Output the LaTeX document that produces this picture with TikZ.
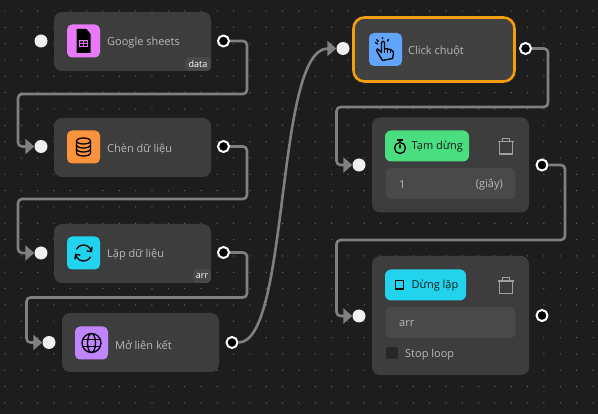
\documentclass[tikz,border=0pt]{standalone}
\usepackage{fontspec}
\setmainfont{Open Sans}
\usetikzlibrary{arrows.meta}
\definecolor{nenC}{HTML}{1D1D1D}
\definecolor{theC}{HTML}{3D3D3D}
\definecolor{oC}{HTML}{494949}
\definecolor{chuC}{HTML}{B8B8B8}
\definecolor{dayC}{HTML}{808080}
\definecolor{hongC}{HTML}{E879F9}
\definecolor{camC}{HTML}{FB923C}
\definecolor{xanhC}{HTML}{22D3EE}
\definecolor{timC}{HTML}{C084FC}
\definecolor{bienC}{HTML}{60A5FA}
\definecolor{lucC}{HTML}{4ADE80}
\definecolor{vienC}{HTML}{F59E0B}
\definecolor{racC}{HTML}{A0A0A0}
\tikzset{
	the/.style={fill=theC, rounded corners=8pt, minimum width=157pt, minimum height=59pt, inner sep=0pt},
	bieutuong/.style={rounded corners=5pt, minimum size=33pt, inner sep=0pt},
	nhan/.style={anchor=west, text=chuC, font=\fontsize{11}{12}\selectfont, inner sep=0pt},
	nhantrang/.style={anchor=center, text=white, font=\fontsize{9}{10}\selectfont, inner sep=0pt},
	nhannut/.style={anchor=west, text=nenC, font=\fontsize{11}{12}\selectfont, inner sep=0pt},
	the nho/.style={fill=oC, rounded corners=4pt, inner sep=0pt},
	o nhap/.style={fill=oC, rounded corners=5pt, minimum width=130pt, minimum height=31pt, inner sep=0pt},
	nut/.style={rounded corners=6pt, minimum height=31pt, inner sep=0pt},
	cong vao/.style={circle, fill=white!94!black, minimum size=13pt, inner sep=0pt},
	cong ra/.style={circle, fill=black, draw=white, line width=2pt, minimum size=11pt, inner sep=0pt},
	day/.style={draw=dayC, line width=2.6pt, rounded corners=4pt, -{Triangle[length=9pt,width=15pt,fill=dayC]}},
	net/.style={draw=black, line width=1.3pt, line cap=round, line join=round},
}
\begin{document}
\begin{tikzpicture}[x=1pt, y=-1pt, line join=round]
	\useasboundingbox (0,0) rectangle (598,414);
	\fill[nenC] (0,0) rectangle (598,414);
	
	% Các chấm nền
	\foreach \i in {0,...,36}
		\foreach \j in {0,...,25}
			\fill[white!32!nenC] (5+16.33*\i, 11+16.33*\j) circle (0.7pt);
	
	% Các thẻ bên trái
	\node[the] (sheets) at (132.5,41.5) {};
	\node[the] (chen) at (132.5,147.5) {};
	\node[the] (lap) at (132.5,253.5) {};
	\node[the] (lienket) at (140.5,342.5) {};
	
	% Các thẻ bên phải
	\node[the, minimum width=161pt, minimum height=64pt, draw=vienC, line width=2.6pt, rounded corners=11pt, fill=white!2!theC] (click) at (434,49.5) {};
	\node[the, minimum height=95pt] (tamdung) at (450.5,165) {};
	\node[the, minimum height=119pt] (dunglap) at (450.5,315.5) {};
	
	% Các biểu tượng
	\node[bieutuong, fill=hongC] (iconsheets) at (83.5,41) {};
	\node[bieutuong, fill=camC] (iconchen) at (83.5,147) {};
	\node[bieutuong, fill=xanhC] (iconlap) at (83.5,253) {};
	\node[bieutuong, fill=timC] (iconlienket) at (91.5,343) {};
	\node[bieutuong, fill=bienC] (iconclick) at (385.5,49.5) {};
	
	% Tên các thẻ
	\node[nhan] (tsheets) at (107,43) {Google sheets};
	\node[nhan] (tchen) at (107,149) {Chèn dữ liệu};
	\node[nhan] (tlap) at (107,255) {Lặp dữ liệu};
	\node[nhan] (tlienket) at (115,345) {Mở liên kết};
	\node[nhan] (tclick) at (408,51) {Click chuột};
	
	% Nhãn nhỏ ở góc
	\node[the nho, minimum width=26pt, minimum height=14pt] (gocdata) at (198,64) {};
	\node[nhantrang] (tdata) at (198,64.5) {data};
	\node[the nho, minimum width=18pt, minimum height=14pt] (gocarr) at (202,276) {};
	\node[nhantrang] (tarr) at (202,276.5) {arr};
	
	% Nút và ô nhập
	\node[nut, fill=lucC, minimum width=84pt] (nuttam) at (427,146) {};
	\node[nhannut] (ttam) at (411.5,146.5) {Tạm dừng};
	\node[o nhap] (otam) at (450.5,183.5) {};
	\node[nhan] (tmot) at (399,185) {1};
	\node[nhan, anchor=east] (tgiay) at (503,185) {(giây)};
	
	\node[nut, fill=xanhC, minimum width=81pt] (nutdung) at (425.5,285) {};
	\node[nhannut] (tdung) at (411.5,285.5) {Dừng lặp};
	\node[o nhap] (odung) at (450.5,322.5) {};
	\node[nhan] (tarrdung) at (399,324) {arr};
	\node[rounded corners=2pt, fill=nenC!70!theC, minimum size=12pt, inner sep=0pt] (ochon) at (392,353) {};
	\node[nhan] (tstop) at (405,354.5) {Stop loop};
	
	% Các cổng
	\node[cong vao] (vaosheets) at (41,41) {};
	\node[cong ra] (rasheets) at (223.5,41) {};
	\node[cong vao] (vaochen) at (41,146.5) {};
	\node[cong ra] (rachen) at (223.5,146.5) {};
	\node[cong vao] (vaolap) at (41,253) {};
	\node[cong ra] (ralap) at (223.5,252.5) {};
	\node[cong vao] (vaolienket) at (49,342.5) {};
	\node[cong ra] (ralienket) at (232,342.5) {};
	\node[cong vao] (vaoclick) at (343,48.5) {};
	\node[cong ra] (raclick) at (525.5,48.5) {};
	\node[cong vao] (vaotam) at (359,165) {};
	\node[cong ra] (ratam) at (542,165) {};
	\node[cong vao] (vaodung) at (359,316) {};
	\node[cong ra] (radung) at (542,315.5) {};
	
	% Các đường nối
	\draw[day] (rasheets) -- (247,41) -- (247,94) -- (18,94) -- (18,146.5) -- (vaochen);
	\draw[day] (rachen) -- (247,146.5) -- (247,199) -- (18,199) -- (18,253) -- (vaolap);
	\draw[day] (ralap) -- (247,252.5) -- (247,297.5) -- (26.5,297.5) -- (26.5,342.5) -- (vaolienket);
	\draw[day] (ralienket) .. controls (290,342.5) and (275,48.5) .. (vaoclick);
	\draw[day] (raclick) -- (548,48.5) -- (548,107) -- (336.5,107) -- (336.5,165) -- (vaotam);
	\draw[day] (ratam) -- (565,165) -- (565,240) -- (336.5,240) -- (336.5,316) -- (vaodung);
	
	% Biểu tượng Google sheets
	\begin{scope}[shift={(83.5,41)}]
		\fill[black] (-7,-12) -- (3,-12) -- (7,-7) -- (7,12) -- (-7,12) -- cycle;
		\fill[hongC] (-4.5,-0.5) rectangle (4.5,6);
		\fill[black] (-3.5,0.5) rectangle (-0.5,2.2) (0.5,0.5) rectangle (3.5,2.2) (-3.5,3.2) rectangle (-0.5,5) (0.5,3.2) rectangle (3.5,5);
	\end{scope}
	% Biểu tượng cơ sở dữ liệu
	\begin{scope}[shift={(83.5,147)}]
		\draw[net] (0,-6) ellipse (7 and 3);
		\draw[net] (-7,-6) -- (-7,6) arc (180:0:7 and 3) -- (7,-6);
		\draw[net] (-7,-2) arc (180:0:7 and 3);
		\draw[net] (-7,2) arc (180:0:7 and 3);
	\end{scope}
	% Biểu tượng lặp
	\begin{scope}[shift={(83.5,253)}]
		\draw[net] (210:8) arc (210:350:8);
		\draw[net] (30:8) arc (30:170:8);
		\draw[net] (8.5,-6) -- (350:8) -- (3.5,-2);
		\draw[net] (-8.5,6) -- (170:8) -- (-3.5,2);
	\end{scope}
	% Biểu tượng quả cầu
	\begin{scope}[shift={(91.5,343)}]
		\draw[net] (0,0) circle (9.5);
		\draw[net] (0,0) ellipse (4 and 9.5);
		\draw[net] (-9,-3.5) -- (9,-3.5) (-9,3.5) -- (9,3.5);
	\end{scope}
	% Biểu tượng bàn tay
	\begin{scope}[shift={(385.5,49.5)}]
		\draw[net] (-6,6) -- (-9,1) .. controls (-9.5,-1) and (-7,-1) .. (-6,1) -- (-4,3) -- (-4,-7) .. controls (-4,-9) and (-1,-9) .. (-1,-7) -- (-1,-1) -- (5,0) .. controls (8,1) and (8,3) .. (8,4) -- (7,9) -- (-3,11) -- cycle;
		\draw[net] (-1,-2) -- (-1,3) (2,-1) -- (2,3) (5,0) -- (5,3);
		\draw[net] (-10,-7) -- (-8,-5.5) (-3,-12) -- (-3,-11) (3,-10) -- (2,-8.5) (-9,-10) -- (-7,-8);
	\end{scope}
	% Biểu tượng đồng hồ
	\begin{scope}[shift={(400,147)}]
		\draw[net] (0,1) circle (5.5);
		\draw[net] (-2.5,-7) -- (2.5,-7) (0,-7) -- (0,-4.5) (0,1) -- (0,-2);
	\end{scope}
	% Biểu tượng dừng
	\draw[net, line width=1.6pt] (395.5,280.5) rectangle (403.5,289);
	% Thùng rác
	\foreach \y in {145,284.5}
		\draw[racC, line width=1.4pt] (498,\y-3.3) -- (514,\y-3.3) (502.5,\y-3.3) -- (502.5,\y-6.7) -- (509.5,\y-6.7) -- (509.5,\y-3.3) (499.5,\y-3.3) -- (499.5,\y+9) -- (512.5,\y+9) -- (512.5,\y-3.3);
\end{tikzpicture}
\end{document}
